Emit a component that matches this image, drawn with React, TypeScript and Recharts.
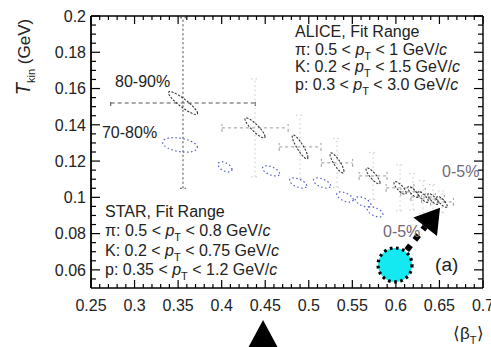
import { ErrorBar, ReferenceDot, ReferenceLine, Scatter, ScatterChart, XAxis, YAxis } from 'recharts'

const W = 491
const H = 347
const MARGIN = { top: 16, right: 8, bottom: 0, left: 0 }
const Y_AXIS_W = 91
const X_AXIS_H = 59
const X_DOMAIN: [number, number] = [0.25, 0.7]
const Y_DOMAIN: [number, number] = [0.05, 0.2]
const PLOT_W = W - MARGIN.left - MARGIN.right - Y_AXIS_W
const PLOT_H = H - MARGIN.top - MARGIN.bottom - X_AXIS_H
// pixels per data unit, used only to size the fit contours
const PX_X = PLOT_W / (X_DOMAIN[1] - X_DOMAIN[0])
const PX_Y = PLOT_H / (Y_DOMAIN[1] - Y_DOMAIN[0])

const FONT = '"Liberation Sans", Arial, Helvetica, sans-serif'
const TEXT = '#222'

// axis ticks
const xMajorTicks = [0.25, 0.3, 0.35, 0.4, 0.45, 0.5, 0.55, 0.6, 0.65, 0.7]
const yMajorTicks = [0.06, 0.08, 0.1, 0.12, 0.14, 0.16, 0.18, 0.2]
const X_MINOR_STEP = 0.01
const Y_MINOR_STEP = 0.005

// ALICE blast-wave fits (black contours)
const aliceCentrality = ['80-90%', '70-80%', '60-70%', '50-60%', '40-50%', '30-40%', '20-30%', '10-20%', '5-10%', '0-5%']
const aliceBeta = [0.3556, 0.4383, 0.49, 0.5324, 0.5738, 0.6048, 0.6197, 0.6312, 0.6426, 0.653]
const aliceT = [0.152, 0.1383, 0.1278, 0.119, 0.1118, 0.1052, 0.103, 0.1002, 0.0991, 0.0975]
const aliceBetaErr = [0.083, 0.038, 0.024, 0.018, 0.016, 0.016, 0.014, 0.014, 0.013, 0.013]
const aliceTErr = [0.047, 0.027, 0.0175, 0.0135, 0.013, 0.0127, 0.01, 0.009, 0.008, 0.006]
const aliceSigBeta = [0.0167, 0.0115, 0.009, 0.008, 0.008, 0.007, 0.006, 0.006, 0.006, 0.006]
const aliceSigT = [0.0063, 0.0055, 0.0066, 0.0055, 0.0044, 0.0035, 0.003, 0.003, 0.003, 0.003]
const aliceRho = [-0.9, -0.88, -0.88, -0.85, -0.85, -0.8, -0.8, -0.8, -0.8, -0.8]

// STAR blast-wave fits (blue contours)
const starBeta = [0.3522, 0.4038, 0.4567, 0.4877, 0.5152, 0.5416, 0.5623, 0.5761]
const starT = [0.1289, 0.1168, 0.1146, 0.1079, 0.1079, 0.1002, 0.0975, 0.092]
const starSigBeta = [0.02, 0.008, 0.0098, 0.0098, 0.0098, 0.0095, 0.009, 0.009]
const starSigT = [0.004, 0.0028, 0.0028, 0.0028, 0.0028, 0.0028, 0.0028, 0.0028]
const starRho = [-0.35, -0.5, -0.55, -0.55, -0.55, -0.55, -0.55, -0.55]

const aliceFitRanges = [
  { species: 'π', lo: '0.5', hi: '1' },
  { species: 'K', lo: '0.2', hi: '1.5' },
  { species: 'p', lo: '0.3', hi: '3.0' },
]
const starFitRanges = [
  { species: 'π', lo: '0.5', hi: '0.8' },
  { species: 'K', lo: '0.2', hi: '0.75' },
  { species: 'p', lo: '0.35', hi: '1.2' },
]

// annotation marks
const marker = { beta: 0.599, t: 0.0627 }
const arrowTip = { beta: 0.6507, t: 0.0942 }
const pointer = { beta: 0.4475, t: 0.0252 }

const aliceData = aliceCentrality.map((c, i) => ({
  c,
  beta: aliceBeta[i],
  t: aliceT[i],
  ex: aliceBetaErr[i],
  ey: aliceTErr[i],
  sb: aliceSigBeta[i],
  st: aliceSigT[i],
  rho: aliceRho[i],
}))
const starData = starBeta.map((b, i) => ({ beta: b, t: starT[i], sb: starSigBeta[i], st: starSigT[i], rho: starRho[i] }))

function minorTicks(domain: [number, number], step: number, majors: number[]) {
  const out: number[] = []
  const n = Math.round((domain[1] - domain[0]) / step)
  for (let i = 1; i < n; i++) {
    const v = +(domain[0] + i * step).toFixed(4)
    if (!majors.some((m) => Math.abs(m - v) < 1e-9)) out.push(v)
  }
  return out
}
const xTicks = [...xMajorTicks, ...minorTicks(X_DOMAIN, X_MINOR_STEP, xMajorTicks)]
const yTicks = [...yMajorTicks, ...minorTicks(Y_DOMAIN, Y_MINOR_STEP, yMajorTicks)]
const isMajor = (v: number, majors: number[]) => majors.some((m) => Math.abs(m - v) < 1e-9)
const fmt = (v: number) => String(+v.toFixed(3))

function ellipsePath(cx: number, cy: number, sb: number, st: number, rho: number) {
  const k = Math.sqrt(1 - rho * rho)
  let d = ''
  for (let i = 0; i <= 60; i++) {
    const a = (i / 60) * 2 * Math.PI
    const px = cx + sb * Math.cos(a) * PX_X
    const py = cy - st * (rho * Math.cos(a) + k * Math.sin(a)) * PX_Y
    d += (i ? 'L' : 'M') + px.toFixed(2) + ',' + py.toFixed(2)
  }
  return d + 'Z'
}

function XTick(props: any) {
  const { x, y, payload } = props
  const major = isMajor(payload.value, xMajorTicks)
  const len = major ? 8 : 4
  const top = y - PLOT_H
  return (
    <g>
      <line x1={x} y1={y} x2={x} y2={y - len} stroke="#000" strokeWidth={1.2} />
      <line x1={x} y1={top} x2={x} y2={top + len} stroke="#000" strokeWidth={1.2} />
      {major && (
        <text x={x} y={y + 23} textAnchor="middle" fontSize={16} fontFamily={FONT} fill={TEXT}>
          {fmt(payload.value)}
        </text>
      )}
    </g>
  )
}

function YTick(props: any) {
  const { x, y, payload } = props
  const major = isMajor(payload.value, yMajorTicks)
  const len = major ? 9 : 5
  const right = x + PLOT_W
  return (
    <g>
      <line x1={x} y1={y} x2={x + len} y2={y} stroke="#000" strokeWidth={1.2} />
      <line x1={right} y1={y} x2={right - len} y2={y} stroke="#000" strokeWidth={1.2} />
      {major && (
        <text x={x - 5} y={y} dy="0.36em" textAnchor="end" fontSize={16} fontFamily={FONT} fill={TEXT}>
          {fmt(payload.value)}
        </text>
      )}
    </g>
  )
}

function YTitle(props: any) {
  const vb = props.viewBox ?? { x: MARGIN.left, y: MARGIN.top }
  const cx = vb.x + 30
  const cy = vb.y + 41
  return (
    <text
      x={cx}
      y={cy}
      transform={`rotate(-90 ${cx} ${cy})`}
      textAnchor="middle"
      fontFamily={FONT}
      fontSize={17}
      fill={TEXT}
    >
      <tspan fontStyle="italic" fontSize={20}>T</tspan>
      <tspan fontSize={11} dy={5}>kin</tspan>
      <tspan dy={-5}> (GeV)</tspan>
    </text>
  )
}

function XTitle(props: any) {
  const vb = props.viewBox ?? { x: MARGIN.left + Y_AXIS_W, y: MARGIN.top + PLOT_H, width: PLOT_W }
  const x = vb.x + vb.width - 30
  const y = vb.y + 51
  return (
    <text x={x} y={y} fontFamily={FONT} fontSize={17} fill={TEXT}>
      ⟨β<tspan fontSize={11} dy={5}>T</tspan>
      <tspan dy={-5}>⟩</tspan>
    </text>
  )
}

function FitRange({ x, y, title, rows, gap }: any) {
  return (
    <g fontFamily={FONT} fontSize={16} fill={TEXT}>
      <text x={x} y={y}>{title}</text>
      {rows.map((r: any, i: number) => (
        <text key={r.species} x={x} y={y + (i + 1) * gap}>
          {`${r.species}: ${r.lo} < `}
          <tspan fontStyle="italic">p</tspan>
          <tspan fontSize={11} dy={5}>T</tspan>
          <tspan dy={-5}>{` < ${r.hi} GeV/`}</tspan>
          <tspan fontStyle="italic">c</tspan>
        </text>
      ))}
    </g>
  )
}

function ArrowShape(p: any) {
  const { x1, y1, x2, y2 } = p
  const dx = x2 - x1
  const dy = y2 - y1
  const L = Math.hypot(dx, dy)
  const ux = dx / L
  const uy = dy / L
  const nx = -uy
  const ny = ux
  const sx = x1 + ux * 19
  const sy = y1 + uy * 19
  const bx = x2 - ux * 24
  const by = y2 - uy * 24
  return (
    <g>
      <line x1={sx} y1={sy} x2={bx} y2={by} stroke="#000" strokeWidth={6} strokeDasharray="6 7" />
      <polygon points={`${x2},${y2} ${bx + nx * 15},${by + ny * 15} ${bx - nx * 15},${by - ny * 15}`} fill="#000" />
    </g>
  )
}

const label = (text: string, opts: any = {}) => (p: any) => (
  <text x={p.cx} y={p.cy} fontFamily={FONT} fontSize={16} fill={TEXT} {...opts}>
    {text}
  </text>
)

const contour = (stroke: string, dash: string, width: number) => (p: any) => (
  <path
    d={ellipsePath(p.cx, p.cy, p.payload.sb, p.payload.st, p.payload.rho)}
    fill="none"
    stroke={stroke}
    strokeWidth={width}
    strokeDasharray={dash}
  />
)

export default function App() {
  return (
    <div style={{ position: 'absolute', left: 0, top: 0, width: W, height: H, background: '#fff' }}>
      <ScatterChart width={W} height={H} margin={MARGIN}>
        <XAxis
          type="number"
          dataKey="beta"
          domain={X_DOMAIN}
          allowDataOverflow
          ticks={xTicks}
          interval={0}
          tickSize={0}
          tickMargin={0}
          tickLine={false}
          axisLine={{ stroke: '#000', strokeWidth: 1.6 }}
          height={X_AXIS_H}
          tick={(p: any) => <XTick {...p} />}
          label={<XTitle />}
        />
        <YAxis
          type="number"
          dataKey="t"
          domain={Y_DOMAIN}
          allowDataOverflow
          ticks={yTicks}
          interval={0}
          tickSize={0}
          tickMargin={0}
          tickLine={false}
          axisLine={{ stroke: '#000', strokeWidth: 1.8 }}
          width={Y_AXIS_W}
          tick={(p: any) => <YTick {...p} />}
          label={<YTitle />}
        />
        <ReferenceLine y={Y_DOMAIN[1]} stroke="#000" strokeWidth={1.4} />
        <ReferenceLine x={X_DOMAIN[1]} stroke="#000" strokeWidth={1.4} />

        <Scatter name="STAR" data={starData} isAnimationActive={false} shape={contour('#4a5cc4', '1.5 2.5', 1.2)} />
        <Scatter
          name="ALICE peripheral"
          data={aliceData.slice(0, 1)}
          isAnimationActive={false}
          shape={contour('#333', '2.2 1.4', 1.1)}
        >
          <ErrorBar dataKey="ex" direction="x" width={3} stroke="#555" strokeWidth={1.1} strokeDasharray="4 3" />
          <ErrorBar dataKey="ey" direction="y" width={3} stroke="#555" strokeWidth={1.1} strokeDasharray="2 2.5" />
        </Scatter>
        <Scatter name="ALICE" data={aliceData.slice(1)} isAnimationActive={false} shape={contour('#333', '2.2 1.4', 1.1)}>
          <ErrorBar dataKey="ex" direction="x" width={4} stroke="#999" strokeWidth={1} strokeDasharray="3 3" />
          <ErrorBar dataKey="ey" direction="y" width={4} stroke="#c8c8c8" strokeWidth={1} strokeDasharray="1.5 3" />
        </Scatter>

        <ReferenceDot x={0.2776} y={0.1609} shape={label('80-90%')} />
        <ReferenceDot x={0.2626} y={0.1327} shape={label('70-80%')} />
        <ReferenceDot x={0.653} y={0.1112} shape={label('0-5%', { fill: '#6f6a78' })} />
        <ReferenceDot x={0.5852} y={0.0782} shape={label('0-5%', { fill: '#6f6a78' })} />
        <ReferenceDot x={0.645} y={0.0594} shape={label('(a)', { fontSize: 19 })} />
        <ReferenceDot
          x={0.4842}
          y={0.1884}
          shape={(p: any) => <FitRange x={p.cx} y={p.cy} title="ALICE, Fit Range" rows={aliceFitRanges} gap={17.7} />}
        />
        <ReferenceDot
          x={0.2661}
          y={0.0891}
          shape={(p: any) => <FitRange x={p.cx} y={p.cy} title="STAR, Fit Range" rows={starFitRanges} gap={19.3} />}
        />

        <ReferenceLine
          segment={[
            { x: marker.beta, y: marker.t },
            { x: arrowTip.beta, y: arrowTip.t },
          ]}
          shape={(p: any) => <ArrowShape {...p} />}
        />
        <ReferenceDot
          x={marker.beta}
          y={marker.t}
          r={17}
          fill="#14e8f0"
          stroke="#000"
          strokeWidth={3.2}
          strokeDasharray="2.6 3.6"
        />
        <ReferenceDot
          x={pointer.beta}
          y={pointer.t}
          ifOverflow="visible"
          shape={(p: any) => (
            <polygon points={`${p.cx},${p.cy - 13} ${p.cx - 15},${p.cy + 15} ${p.cx + 15},${p.cy + 15}`} fill="#000" />
          )}
        />
      </ScatterChart>
    </div>
  )
}
